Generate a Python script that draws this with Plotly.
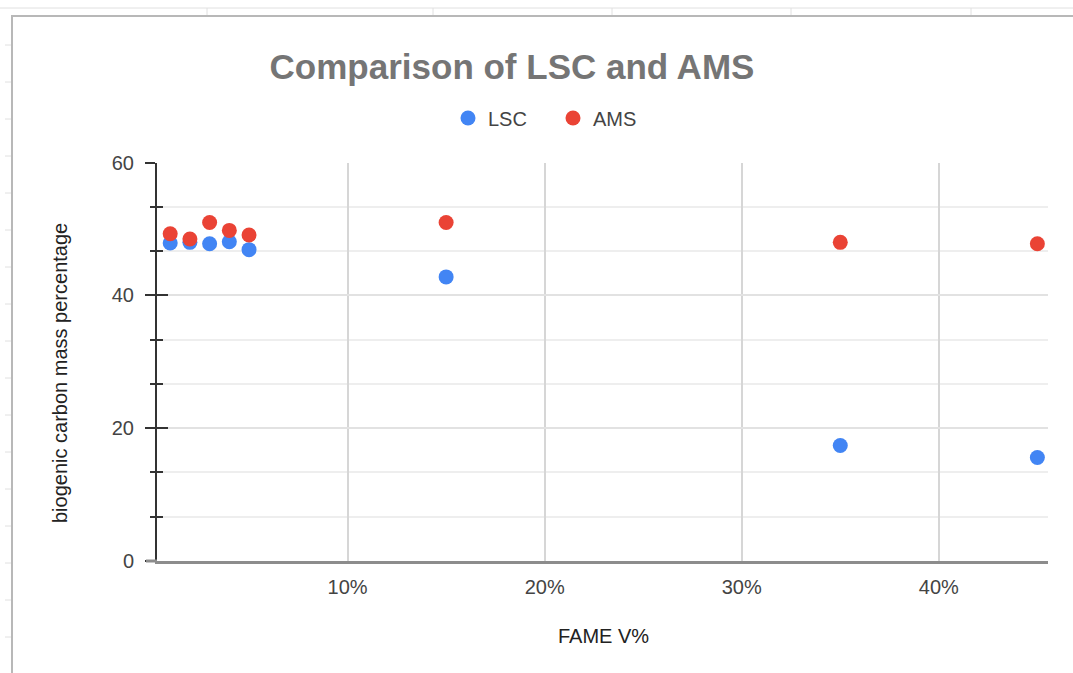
import plotly.graph_objects as go

# FAME blend level (volume fraction) and biogenic carbon results by method
fame_v = [0.01, 0.02, 0.03, 0.04, 0.05, 0.15, 0.35, 0.45]
lsc_pct = [47.9, 48.0, 47.8, 48.1, 46.9, 42.8, 17.4, 15.6]
ams_pct = [49.3, 48.5, 51.0, 49.8, 49.1, 51.0, 48.0, 47.8]

x_ticks = [0.1, 0.2, 0.3, 0.4]
y_ticks = [0, 20, 40, 60]

W, H = 1073, 673
FONT = "Arial, 'Liberation Sans', sans-serif"
BLUE = "#4285F4"
RED = "#EA4335"


def px(x):
    return x / W


def py(y):
    return 1 - y / H


fig = go.Figure()
fig.add_trace(go.Scatter(x=fame_v, y=lsc_pct, mode="markers", name="LSC",
                         marker=dict(color=BLUE, size=15)))
fig.add_trace(go.Scatter(x=fame_v, y=ams_pct, mode="markers", name="AMS",
                         marker=dict(color=RED, size=15)))
# empty trace that carries the inner tick marks of the value axis
fig.add_trace(go.Scatter(x=[], y=[], yaxis="y2", showlegend=False, hoverinfo="skip"))

x_dom = [px(157), px(1048)]
y_dom = [py(561), py(162.7)]

fig.update_layout(
    template="none",
    width=W, height=H, autosize=False,
    margin=dict(l=0, r=0, t=0, b=0, pad=0, autoexpand=False),
    paper_bgcolor="white", plot_bgcolor="white",
    font=dict(family=FONT, color="#444444"),
    title=dict(text="<b>Comparison of LSC and AMS</b>", x=px(512), xanchor="center",
               y=py(67), yanchor="middle", automargin=False,
               font=dict(family=FONT, size=35, color="#757575")),
    showlegend=True,
    legend=dict(orientation="h", x=px(448), xanchor="left", y=py(118), yanchor="middle",
                font=dict(family=FONT, size=20, color="#444444"),
                entrywidth=60, itemsizing="trace", bgcolor="rgba(0,0,0,0)", borderwidth=0),
    xaxis=dict(domain=x_dom, range=[0.0033, 0.4554], tickvals=x_ticks, tickformat=".0%",
               automargin=False,
               showgrid=True, gridcolor="#d6d6d6", gridwidth=2, zeroline=False,
               showline=True, linecolor="#8c8c8c", linewidth=3, ticks="",
               ticklabelstandoff=6,
               tickfont=dict(family=FONT, size=20, color="#444444")),
    yaxis=dict(domain=y_dom, range=[0, 60], tickvals=y_ticks, automargin=False,
               showgrid=True, gridcolor="#e2e2e2", gridwidth=2, zeroline=False,
               showline=True, linecolor="#333333", linewidth=2,
               ticks="outside", ticklen=10, tickwidth=2, tickcolor="#333333",
               ticklabelstandoff=7,
               tickfont=dict(family=FONT, size=20, color="#444444"),
               minor=dict(dtick=20 / 3, tick0=0, ticks="outside", ticklen=5, tickwidth=2,
                          tickcolor="#333333", showgrid=True, gridcolor="#eeeeee",
                          gridwidth=2)),
    yaxis2=dict(domain=y_dom, range=[0, 60], overlaying="y", side="left", anchor="x",
                automargin=False,
                tickvals=y_ticks, showticklabels=False, showgrid=False, zeroline=False,
                ticks="inside", ticklen=11, tickwidth=2, tickcolor="#333333",
                minor=dict(dtick=20 / 3, tick0=0, ticks="inside", ticklen=6, tickwidth=2,
                           tickcolor="#333333", showgrid=False)),
)

# axis titles
fig.add_annotation(text="FAME V%", xref="paper", yref="paper", x=px(603), y=py(636),
                   xanchor="center", yanchor="middle",
                   showarrow=False, font=dict(family=FONT, size=20, color="#222222"))
fig.add_annotation(text="biogenic carbon mass percentage", xref="paper", yref="paper",
                   x=px(60), y=py(373), xanchor="center", yanchor="middle",
                   textangle=-90, showarrow=False,
                   font=dict(family=FONT, size=20, color="#222222"))

# surrounding sheet: header rule, column and row separators, chart frame
shapes = [
    dict(type="line", xref="paper", yref="paper", x0=0, x1=1, y0=py(8), y1=py(8),
         line=dict(color="#e0e0e0", width=1), layer="below"),
]
for cx in [207, 433, 612, 791, 971]:
    shapes.append(dict(type="line", xref="paper", yref="paper", x0=px(cx), x1=px(cx),
                       y0=py(8), y1=py(16), line=dict(color="#e0e0e0", width=1), layer="below"))
for ry in range(45, 673, 37):
    shapes.append(dict(type="line", xref="paper", yref="paper", x0=px(5), x1=px(12),
                       y0=py(ry), y1=py(ry), line=dict(color="#e0e0e0", width=1), layer="below"))
shapes.append(dict(type="rect", xref="paper", yref="paper", x0=px(12), x1=px(1090),
                   y0=py(16), y1=py(700), line=dict(color="#b8b8b8", width=2),
                   fillcolor="rgba(0,0,0,0)", layer="below"))
# baseline stub extending left of the value axis
shapes.append(dict(type="line", xref="paper", yref="paper", x0=px(146), x1=px(157),
                   y0=py(561), y1=py(561), line=dict(color="#8c8c8c", width=3)))
fig.update_layout(shapes=shapes)

fig.write_html("out.html")
